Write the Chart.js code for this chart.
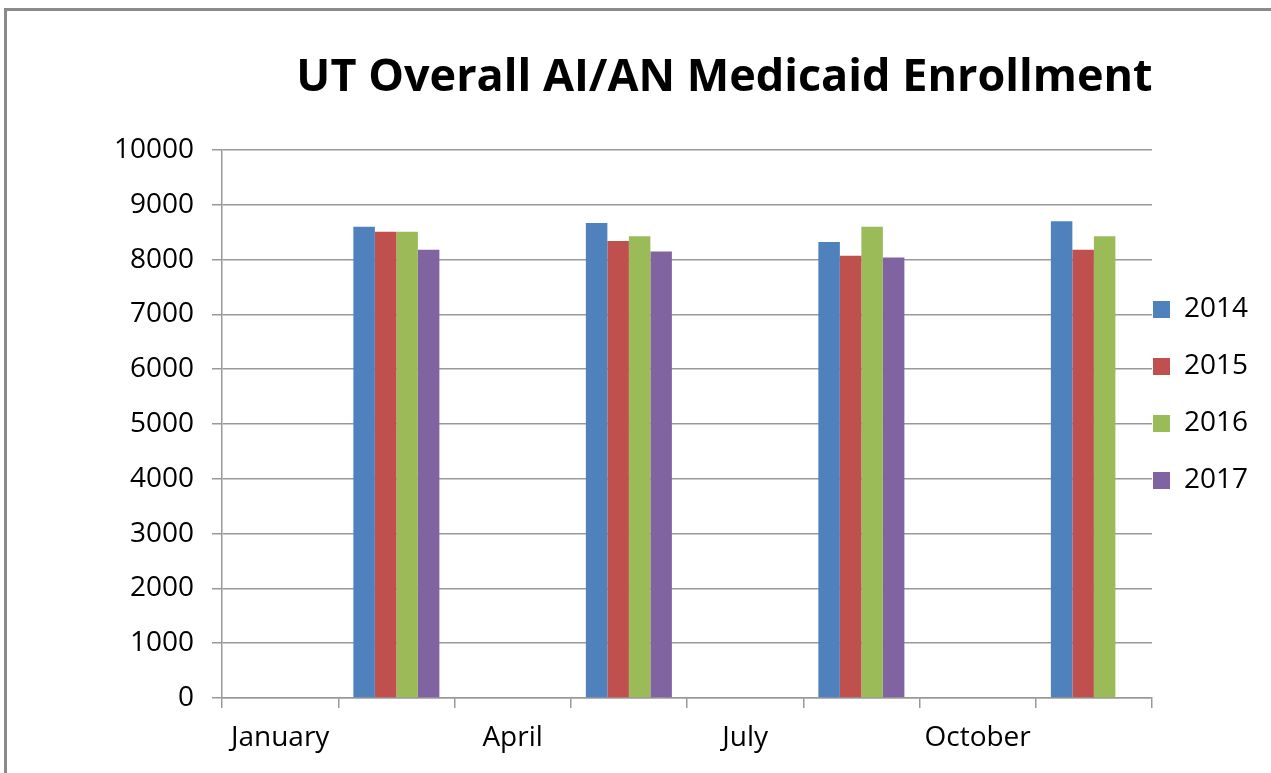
<!DOCTYPE html>
<html>
<head>
<meta charset="utf-8">
<title>UT Overall AI/AN Medicaid Enrollment</title>
<script src="https://cdn.jsdelivr.net/npm/chart.js@4.4.0/dist/chart.umd.min.js"></script>
<style>
    html, body { margin: 0; padding: 0; background: #fff; overflow: hidden; }
    #frame {
        position: absolute; left: 4px; top: 8px; right: 0; bottom: 0;
        border-top: 3px solid #8a8a8a; border-left: 3px solid #8a8a8a;
    }
    #wrap { position: absolute; left: 0; top: 0; width: 1271px; height: 773px; }
</style>
</head>
<body>
<div id="frame"></div>
<div id="wrap"><canvas id="enrollment-chart" width="1271" height="773"></canvas></div>
<script>
// البيانات كما قرئت من الصورة
const categories = ['January', '', 'April', '', 'July', '', 'October', ''];
const years = ['2014', '2015', '2016', '2017'];
const enrollment2014 = [null, 8600, null, 8670, null, 8320, null, 8700];
const enrollment2015 = [null, 8510, null, 8340, null, 8070, null, 8180];
const enrollment2016 = [null, 8510, null, 8425, null, 8600, null, 8425];
const enrollment2017 = [null, 8180, null, 8150, null, 8040, null, null];
const yMin = 0;
const yMax = 10000;
const yStep = 1000;

const seriesColors = ['#4F81BD', '#C0504D', '#9BBB59', '#8064A2'];
const allSeries = [enrollment2014, enrollment2015, enrollment2016, enrollment2017];

Chart.defaults.font.family = '"Open Sans", sans-serif';
Chart.defaults.color = '#000';

// تحريك العنوان ووسيلة الإيضاح لتطابق تخطيط إكسل
const nudge = {
    id: 'nudge',
    afterLayout(chart) {
        const t = chart.titleBlock;
        t.left += 32; t.right += 32;
        const lg = chart.legend;
        lg.left -= 28;
        lg.top += 16; lg.bottom += 16;
    }
};

const gridGray = '#999';

new Chart(document.getElementById('enrollment-chart').getContext('2d'), {
    type: 'bar',
    data: {
        labels: categories,
        datasets: years.map((year, i) => ({
            label: year,
            data: allSeries[i],
            backgroundColor: seriesColors[i],
            borderWidth: 0,
            categoryPercentage: 0.74,
            barPercentage: 1
        }))
    },
    options: {
        responsive: false,
        animation: false,
        layout: { padding: { left: 114, right: 0, top: 0, bottom: 15 } },
        plugins: {
            title: {
                display: true,
                text: 'UT Overall AI/AN Medicaid Enrollment',
                font: { size: 45, weight: 'bold' },
                color: '#000',
                padding: { top: 51, bottom: 45 }
            },
            legend: {
                position: 'right',
                maxWidth: 119,
                labels: {
                    boxWidth: 17,
                    boxHeight: 17,
                    padding: 29,
                    font: { size: 28 },
                    color: '#000'
                }
            },
            tooltip: { enabled: false }
        },
        scales: {
            x: {
                grid: {
                    offset: true,
                    drawOnChartArea: false,
                    drawTicks: true,
                    tickLength: 10,
                    color: gridGray,
                    lineWidth: 1.5
                },
                border: { color: gridGray, width: 1.5 },
                ticks: {
                    autoSkip: false,
                    maxRotation: 0,
                    padding: 13,
                    font: { size: 28 },
                    color: '#000'
                },
                afterFit(scale) { scale.height = 60; }
            },
            y: {
                min: yMin,
                max: yMax,
                grid: {
                    color: gridGray,
                    lineWidth: 1.5,
                    tickLength: 10
                },
                border: { color: gridGray, width: 1.5 },
                ticks: {
                    stepSize: yStep,
                    padding: 18,
                    font: { size: 28 },
                    color: '#000',
                    callback: value => String(value)
                },
                afterFit(scale) { scale.width = 108; }
            }
        }
    },
    plugins: [nudge]
});
</script>
</body>
</html>
